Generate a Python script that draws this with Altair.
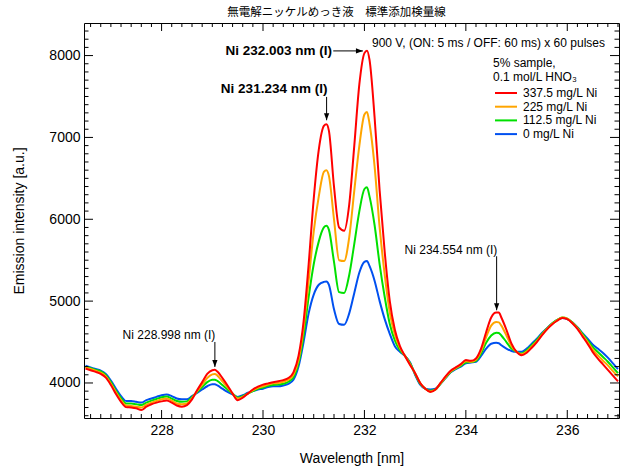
import altair as alt
import pandas as pd
import numpy as np

# ---------------- data ----------------
wavelength = [
    226.5, 226.6, 226.7, 226.8, 226.9, 227.0, 227.1, 227.2, 227.3, 227.4,
    227.5, 227.6, 227.7, 227.8, 227.9, 228.0, 228.1, 228.2, 228.3, 228.4,
    228.5, 228.6, 228.7, 228.8, 228.9, 229.0, 229.05, 229.1, 229.2, 229.3,
    229.4, 229.5, 229.6, 229.7, 229.8, 229.9, 230.0, 230.1, 230.2, 230.3,
    230.4, 230.5, 230.6, 230.7, 230.8, 230.9, 231.0, 231.1, 231.2, 231.25,
    231.3, 231.4, 231.5, 231.6, 231.7, 231.8, 231.9, 232.0, 232.05, 232.1,
    232.2, 232.3, 232.4, 232.5, 232.6, 232.7, 232.8, 232.9, 233.0, 233.1,
    233.2, 233.3, 233.4, 233.5, 233.6, 233.7, 233.8, 233.9, 234.0, 234.1,
    234.2, 234.3, 234.4, 234.5, 234.6, 234.65, 234.7, 234.8, 234.9, 235.0,
    235.1, 235.2, 235.3, 235.4, 235.5, 235.6, 235.7, 235.8, 235.9, 236.0,
    236.1, 236.2, 236.3, 236.4, 236.5, 236.6, 236.7, 236.8, 236.9, 237.0,
]

ni_0 = [
    4210, 4190, 4170, 4150, 4110, 4030, 3930, 3840, 3780, 3780,
    3770, 3760, 3790, 3810, 3830, 3850, 3860, 3840, 3810, 3800,
    3800, 3840, 3880, 3920, 3960, 3985, 3985, 3970, 3930, 3890,
    3860, 3830, 3850, 3880, 3900, 3920, 3930, 3950, 3960, 3960,
    3970, 3990, 4040, 4200, 4500, 4850, 5080, 5200, 5235, 5240,
    5200, 4900, 4720, 4710, 4850, 5100, 5350, 5480, 5490, 5430,
    5250, 5000, 4780, 4600, 4450, 4380, 4330, 4250, 4100, 3980,
    3930, 3920, 3930, 3990, 4060, 4130, 4170, 4200, 4240, 4250,
    4260, 4330, 4420, 4480, 4490, 4485, 4460, 4420, 4390, 4380,
    4380, 4420, 4480, 4540, 4610, 4670, 4725, 4770, 4795, 4780,
    4740, 4680, 4610, 4540, 4470, 4420, 4370, 4310, 4240, 4170,
]

ni_112 = [
    4200, 4180, 4160, 4140, 4095, 4010, 3905, 3815, 3750, 3750,
    3740, 3730, 3760, 3785, 3805, 3825, 3835, 3810, 3780, 3770,
    3775, 3830, 3890, 3950, 4010, 4040, 4040, 4025, 3975, 3920,
    3870, 3820, 3840, 3870, 3900, 3930, 3945, 3965, 3975, 3980,
    3990, 4015, 4070, 4240, 4580, 5050, 5450, 5730, 5900, 5920,
    5870, 5480, 5110, 5100, 5320, 5700, 6100, 6370, 6390, 6280,
    5930, 5450, 5050, 4720, 4520, 4400, 4330, 4240, 4110, 3990,
    3930, 3905, 3920, 3990, 4065, 4135, 4175, 4210, 4250, 4255,
    4270, 4360, 4490, 4580, 4615, 4610, 4580, 4500, 4420, 4380,
    4360, 4400, 4460, 4525, 4600, 4665, 4725, 4770, 4800, 4785,
    4740, 4675, 4600, 4520, 4440, 4380, 4320, 4260, 4190, 4120,
]

ni_225 = [
    4190, 4170, 4150, 4125, 4080, 3990, 3885, 3790, 3725, 3720,
    3710, 3700, 3735, 3760, 3780, 3800, 3810, 3785, 3750, 3740,
    3750, 3815, 3900, 3980, 4060, 4105, 4110, 4090, 4020, 3950,
    3870, 3810, 3830, 3870, 3910, 3940, 3960, 3980, 3995, 4000,
    4015, 4040, 4100, 4280, 4670, 5250, 5850, 6280, 6580, 6600,
    6530, 6000, 5500, 5490, 5780, 6350, 6900, 7280, 7310, 7170,
    6650, 5900, 5320, 4860, 4590, 4430, 4330, 4230, 4115, 4000,
    3930, 3895, 3920, 3995, 4070, 4140, 4180, 4220, 4265, 4260,
    4285, 4390, 4560, 4700, 4745, 4740, 4700, 4580, 4450, 4380,
    4350, 4385, 4445, 4510, 4590, 4660, 4720, 4765, 4800, 4785,
    4735, 4670, 4585, 4500, 4410, 4340, 4275, 4215, 4145, 4080,
]

ni_337 = [
    4175, 4155, 4135, 4110, 4065, 3975, 3865, 3770, 3705, 3700,
    3690, 3670, 3710, 3740, 3760, 3775, 3785, 3760, 3725, 3710,
    3730, 3800, 3910, 4010, 4110, 4155, 4160, 4140, 4060, 3970,
    3870, 3790, 3820, 3870, 3920, 3955, 3980, 3995, 4010, 4020,
    4035, 4060, 4130, 4330, 4750, 5450, 6250, 6850, 7140, 7160,
    7080, 6400, 5900, 5860, 6180, 6900, 7650, 8030, 8060, 7950,
    7250, 6350, 5600, 5000, 4650, 4450, 4330, 4220, 4120, 4000,
    3930, 3890, 3920, 4000, 4080, 4150, 4190, 4230, 4280, 4270,
    4300, 4420, 4620, 4800, 4860, 4860, 4800, 4650, 4480, 4380,
    4340, 4370, 4430, 4500, 4580, 4655, 4715, 4760, 4795, 4780,
    4730, 4660, 4570, 4480, 4380, 4300, 4230, 4160, 4090, 4020,
]

series_names = ["0 mg/L Ni", "112.5 mg/L Ni", "225 mg/L Ni", "337.5 mg/L Ni"]
series_colors = ["#0050f0", "#00e000", "#ffa500", "#ff0000"]
series_values = [ni_0, ni_112, ni_225, ni_337]

# annotations: label, text anchor (wl, intensity), arrow start, arrow tip
ann_labels = ["Ni 232.003 nm (I)", "Ni 231.234 nm (I)", "Ni 228.998 nm (I)", "Ni 234.554 nm (I)"]
ann_text_x = [231.38, 231.27, 229.06, 234.62]
ann_text_y = [8057, 7537, 4543, 5581]
ann_x1 = [231.385, 231.254, 229.051, 234.607]
ann_y1 = [8057, 7495, 4501, 5548]
ann_x2 = [231.97, 231.254, 229.051, 234.607]
ann_y2 = [8057, 7210, 4196, 4888]
ann_bold = [True, True, False, False]

x_major = [228, 230, 232, 234, 236]
y_major = [4000, 5000, 6000, 7000, 8000]

FONT = "Liberation Sans"
W, H = 535, 395
xdom = [226.47, 237.02]
ydom = [3572, 8398]
xs = alt.Scale(domain=xdom, nice=False, zero=False)
ys = alt.Scale(domain=ydom, nice=False, zero=False)

AX = alt.Axis(values=x_major, ticks=False, domain=False, grid=False,
              labelFontSize=14, labelPadding=5, title="Wavelength [nm]",
              titleFontSize=14, titleFontWeight="normal", titlePadding=14,
              labelFont=FONT, titleFont=FONT, labelColor="black", titleColor="black")
AY = alt.Axis(values=y_major, format="d", ticks=False, domain=False, grid=False,
              labelFontSize=14, labelPadding=4, title="Emission intensity [a.u.]",
              titleFontSize=14, titleFontWeight="normal", titlePadding=22,
              labelFont=FONT, titleFont=FONT, labelColor="black", titleColor="black")

def X(f):
    return alt.X(f, scale=xs, axis=AX)

def Y(f):
    return alt.Y(f, scale=ys, axis=AY)

layers = []

# ---------------- spectra ----------------
for name, col, vals in zip(series_names, series_colors, series_values):
    df = pd.DataFrame({"wl": wavelength, "I": vals})
    layers.append(
        alt.Chart(df).mark_line(color=col, strokeWidth=2, clip=True, interpolate="monotone")
        .encode(x=X("wl:Q"), y=Y("I:Q"))
    )

# ---------------- inward ticks on all four sides ----------------
x_minor = [float(v) for v in np.round(np.arange(226.6, 237.01, 0.2), 2)
           if abs(v / 2 - round(v / 2)) > 1e-6]
y_minor = [v for v in range(3600, 8400, 100) if v % 1000 != 0]

def xticks(vals, y0, y1):
    return alt.Chart(pd.DataFrame({"wl": vals})).mark_rule(color="black", strokeWidth=1).encode(
        x=X("wl:Q"), y=alt.value(y0), y2=alt.value(y1))

def yticks(vals, x0, x1):
    return alt.Chart(pd.DataFrame({"I": vals})).mark_rule(color="black", strokeWidth=1).encode(
        y=Y("I:Q"), x=alt.value(x0), x2=alt.value(x1))

layers += [
    xticks(x_major, H, H - 8), xticks(x_minor, H, H - 4),
    xticks(x_major, 0, 8), xticks(x_minor, 0, 4),
    yticks(y_major, 0, 9), yticks(y_minor, 0, 4.5),
    yticks(y_major, W, W - 9), yticks(y_minor, W, W - 4.5),
]

# ---------------- annotations ----------------
ann = pd.DataFrame({"label": ann_labels, "tx": ann_text_x, "ty": ann_text_y,
                    "x1": ann_x1, "y1": ann_y1, "x2": ann_x2, "y2": ann_y2,
                    "bold": ann_bold})
layers.append(alt.Chart(ann).mark_rule(color="black", strokeWidth=1).encode(
    x=X("x1:Q"), x2="x2:Q", y=Y("y1:Q"), y2="y2:Q"))

down = ann[ann["x1"] == ann["x2"]]
right = ann[ann["x1"] != ann["x2"]]
layers.append(alt.Chart(down).mark_point(
    shape="M0,0 L-0.75,-2 L0.75,-2 Z", filled=True, color="black", opacity=1, size=49, strokeWidth=0
).encode(x=X("x2:Q"), y=Y("y2:Q")))
layers.append(alt.Chart(right).mark_point(
    shape="M0,0 L-2,-0.75 L-2,0.75 Z", filled=True, color="black", opacity=1, size=49, strokeWidth=0
).encode(x=X("x2:Q"), y=Y("y2:Q")))

bold_ann = ann[ann["bold"]]
norm_ann = ann[~ann["bold"]]
layers.append(alt.Chart(bold_ann.iloc[[0]]).mark_text(
    align="right", baseline="middle", fontSize=13.5, fontWeight="bold", font=FONT, color="black", dx=-1
).encode(x=X("tx:Q"), y=Y("ty:Q"), text="label:N"))
layers.append(alt.Chart(bold_ann.iloc[[1]]).mark_text(
    align="right", baseline="alphabetic", fontSize=13.5, fontWeight="bold", font=FONT, color="black"
).encode(x=X("tx:Q"), y=Y("ty:Q"), text="label:N"))
layers.append(alt.Chart(norm_ann).mark_text(
    align="right", baseline="alphabetic", fontSize=12, font=FONT, color="black"
).encode(x=X("tx:Q"), y=Y("ty:Q"), text="label:N"))

# ---------------- condition text and legend ----------------
cond_text = "900 V, (ON: 5 ms / OFF: 60 ms) x 60 pulses"
legend_title = ["5% sample,", "0.1 mol/L HNO\u2083"]

layers.append(alt.Chart(pd.DataFrame({"t": [cond_text]})).mark_text(
    align="left", baseline="alphabetic", fontSize=12, font=FONT, color="black"
).encode(x=alt.value(288), y=alt.value(24), text="t:N"))

for k, t in enumerate(legend_title):
    layers.append(alt.Chart(pd.DataFrame({"t": [t]})).mark_text(
        align="left", baseline="alphabetic", fontSize=12, font=FONT, color="black"
    ).encode(x=alt.value(409), y=alt.value(44 + 13.5 * k), text="t:N"))

for k, idx in enumerate([3, 2, 1, 0]):
    ly = 70 + 13.7 * k
    layers.append(alt.Chart(pd.DataFrame({"t": [series_names[idx]]})).mark_rule(
        color=series_colors[idx], strokeWidth=2
    ).encode(x=alt.value(411), x2=alt.value(433), y=alt.value(ly)))
    layers.append(alt.Chart(pd.DataFrame({"t": [series_names[idx]]})).mark_text(
        align="left", baseline="alphabetic", fontSize=12, font=FONT, color="black"
    ).encode(x=alt.value(439), y=alt.value(ly + 4), text="t:N"))

chart = alt.layer(*layers).properties(
    width=W, height=H,
    autosize=alt.AutoSizeParams(type="none"),
    padding={"left": 84, "top": 23, "right": 2, "bottom": 53},
    background="white",
    title=alt.TitleParams("無電解ニッケルめっき液\u3000標準添加検量線", font="Noto Sans CJK JP",
                          fontSize=11.5, fontWeight="normal", color="black",
                          anchor="middle", dx=-15, offset=4),
).configure_view(stroke="black", strokeWidth=1)

chart.save("out.html", embed_options={"renderer": "svg", "actions": False})
